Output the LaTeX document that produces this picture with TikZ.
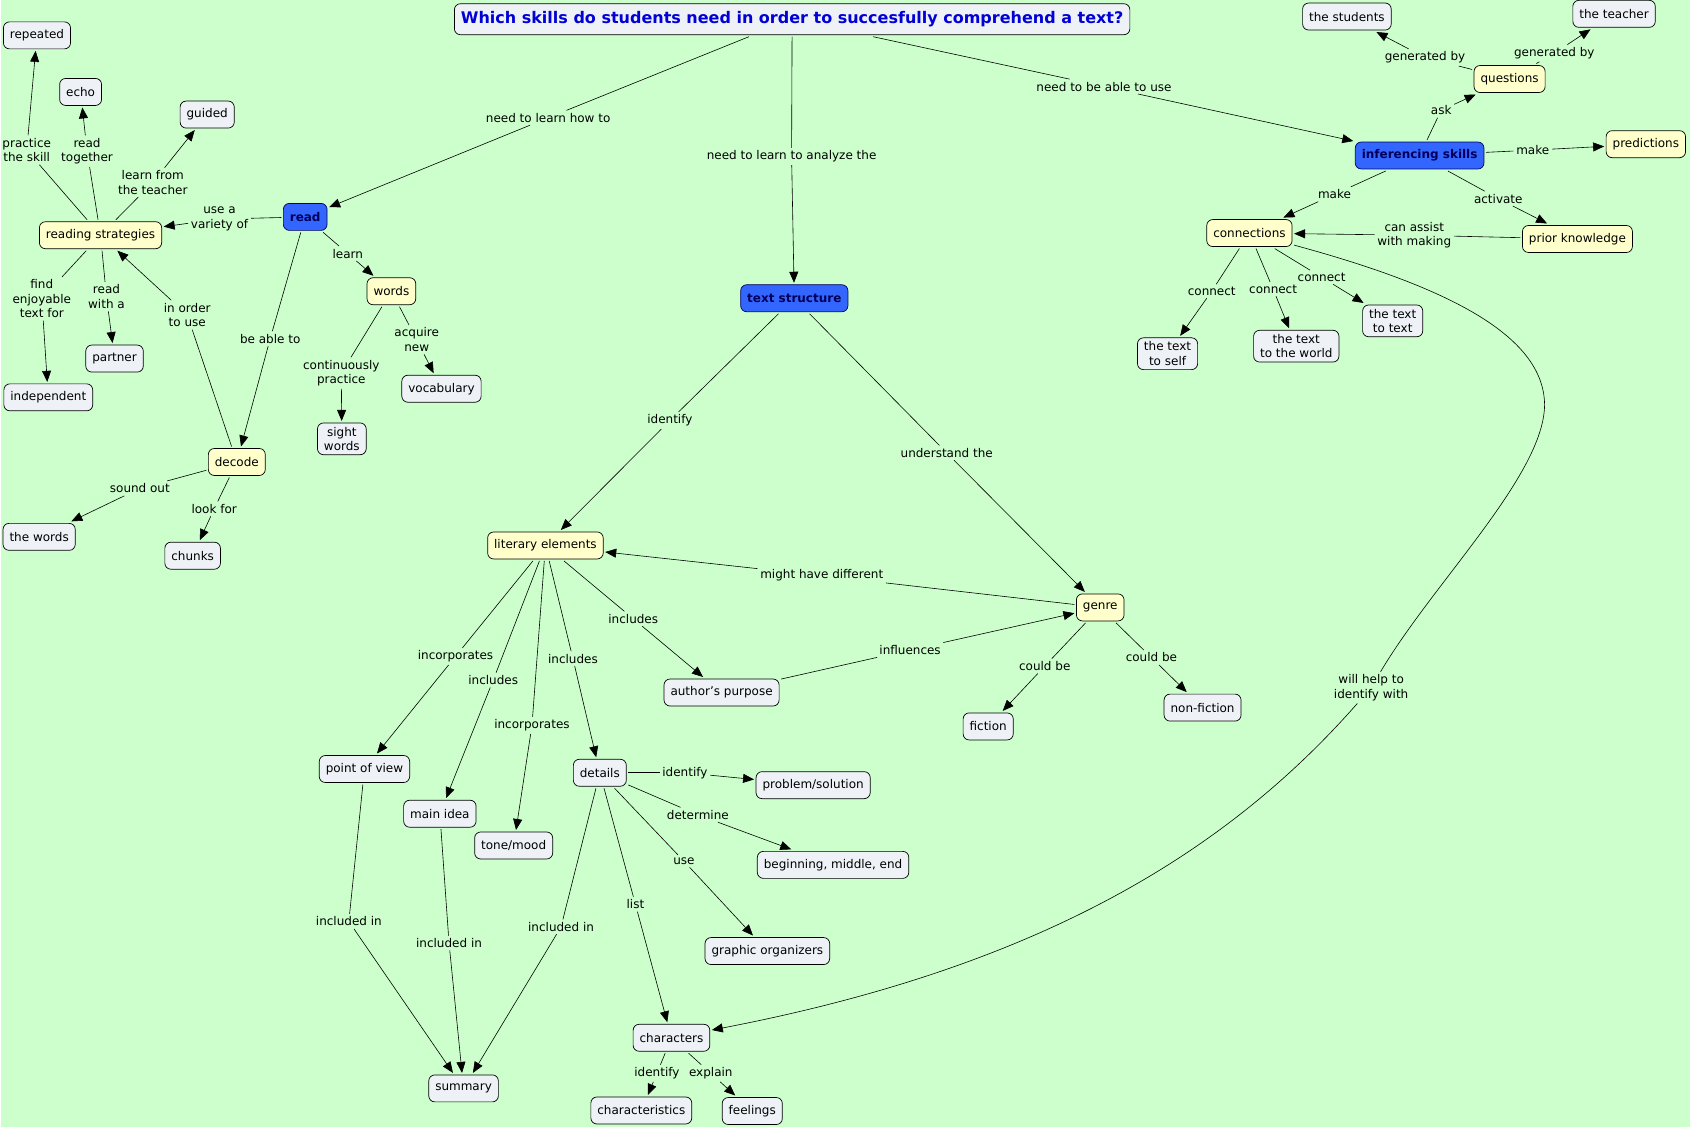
\documentclass[tikz,border=0pt]{standalone}
\usepackage{fontspec}
\setmainfont{DejaVu Sans}
\usetikzlibrary{arrows.meta}
\definecolor{cmapbg}{RGB}{204,255,204}
\definecolor{paleblue}{RGB}{238,242,247}
\definecolor{paleyellow}{RGB}{255,255,204}
\definecolor{hubblue}{RGB}{51,102,255}
\definecolor{hubtext}{RGB}{0,0,90}
\definecolor{titleblue}{RGB}{0,0,215}

\begin{document}
\begin{tikzpicture}[x=1.0778pt,y=-1.0778pt,
    every node/.style={font=\fontsize{12}{14.5}\selectfont},
    concept/.style={draw,line width=0.7pt,rounded corners=6pt,fill=paleblue,align=center,
      minimum height=27pt,inner xsep=6.5pt,inner ysep=4pt,outer sep=2pt},
    idea/.style={concept,fill=paleyellow},
    hub/.style={concept,fill=hubblue,draw=hubtext,text=hubtext,font=\fontsize{12}{14.5}\selectfont\bfseries},
    link/.style={align=center,inner sep=2.5pt},
    arr/.style={-{Triangle[length=11pt,width=9pt]}},
    every path/.style={line width=0.6pt}]
  \fill[cmapbg] (0,0) rectangle (1568,1046);

  % concepts
  \node[concept,text=titleblue,minimum width=673pt,minimum height=31pt,
    font=\fontsize{16}{18}\selectfont\bfseries] (q) at (734.5,17.5)
    {Which skills do students need in order to succesfully comprehend a text?};
  \node[hub] (read) at (282.5,201) {read};
  \node[hub] (struct) at (736.5,276.5) {text structure};
  \node[hub] (infer) at (1317,144) {inferencing skills};

  \node[concept] (stud) at (1249.5,15) {the students};
  \node[concept] (teach) at (1497.5,12.5) {the teacher};
  \node[idea] (quest) at (1400.5,73) {questions};
  \node[idea] (pred) at (1527,133.5) {predictions};
  \node[idea] (con) at (1159,216) {connections};
  \node[idea] (prior) at (1463.5,221.5) {prior knowledge};
  \node[concept] (self) at (1083,328) {the text\\ to self};
  \node[concept] (world) at (1202.5,321) {the text\\ to the world};
  \node[concept] (ttext) at (1292,297.5) {the text\\ to text};

  \node[concept] (rep) at (33.5,32.5) {repeated};
  \node[concept] (echo) at (74,85) {echo};
  \node[concept] (guid) at (191.5,106) {guided};
  \node[idea] (strat) at (92.5,218) {reading strategies};
  \node[idea] (words) at (362.5,270) {words};
  \node[concept] (part) at (105.5,332.5) {partner};
  \node[concept] (indep) at (44,368.5) {independent};
  \node[concept] (vocab) at (409,360.5) {vocabulary};
  \node[concept] (sight) at (316.5,407) {sight\\ words};
  \node[idea] (dec) at (219,428.5) {decode};
  \node[concept] (thew) at (35.5,498) {the words};
  \node[concept] (chunk) at (178,515.5) {chunks};

  \node[idea] (lit) at (505.5,506) {literary elements};
  \node[idea] (genre) at (1020.5,563.5) {genre};
  \node[concept] (auth) at (669,642.5) {author's purpose};
  \node[concept] (fict) at (916.5,674) {fiction};
  \node[concept] (nonf) at (1115.5,656.5) {non-fiction};
  \node[concept] (pov) at (337.5,713.5) {point of view};
  \node[concept] (main) at (407.5,755) {main idea};
  \node[concept] (tone) at (476,784.5) {tone/mood};
  \node[concept] (det) at (556,717) {details};
  \node[concept] (prob) at (754,728.5) {problem/solution};
  \node[concept] (bme) at (772.5,802.5) {beginning, middle, end};
  \node[concept] (graph) at (711.5,882.5) {graphic organizers};
  \node[concept] (chars) at (622.5,963) {characters};
  \node[concept] (charac) at (594.5,1030.5) {characteristics};
  \node[concept] (feel) at (697.5,1031) {feelings};
  \node[concept] (summ) at (429.5,1010) {summary};

  % linking phrases
  \node[link] (lhow) at (508,109) {need to learn how to};
  \node[link] (lanal) at (734,145) {need to learn to analyze the};
  \node[link] (lable) at (1024,80) {need to be able to use};
  \node[link] (lgen1) at (1322,53) {generated by};
  \node[link] (lgen2) at (1442,49) {generated by};
  \node[link] (lask) at (1337,102) {ask};
  \node[link] (lmake1) at (1422,139) {make};
  \node[link] (lmake2) at (1238,180) {make};
  \node[link] (lact) at (1390,184) {activate};
  \node[link] (lassist) at (1312,218) {can assist\\ with making};
  \node[link] (lcon1) at (1124,270) {connect};
  \node[link] (lcon2) at (1181,268) {connect};
  \node[link] (lcon3) at (1226,257) {connect};
  \node[link] (lhelp) at (1272,638) {will help to\\ identify with};

  \node[link] (lvar) at (203,203) {use a\\ variety of};
  \node[link] (llearn) at (322,235) {learn};
  \node[link] (lprac) at (24,139) {practice\\ the skill};
  \node[link] (ltog) at (80,140) {read\\ together};
  \node[link] (lfrom) at (141,169) {learn from\\ the teacher};
  \node[link] (lfind) at (38,277) {find\\ enjoyable\\ text for};
  \node[link] (lwith) at (98,275) {read\\ with a};
  \node[link] (lorder) at (173,292) {in order\\ to use};
  \node[link] (lbe) at (250,314) {be able to};
  \node[link] (lcont) at (316,346) {continuously\\ practice};
  \node[link] (lacq) at (386,315) {acquire\\ new};
  \node[link] (lsound) at (129,453) {sound out};
  \node[link] (llook) at (198,472) {look for};

  \node[link] (lident) at (621,390) {identify};
  \node[link] (lund) at (878,420) {understand the};
  \node[link] (ldiff) at (762,534) {might have different};
  \node[link] (linc1) at (587,574) {includes};
  \node[link] (linfl) at (844,603) {influences};
  \node[link] (lcould1) at (969,618) {could be};
  \node[link] (lcould2) at (1068,610) {could be};
  \node[link] (linco1) at (422,609) {incorporates};
  \node[link] (linc2) at (457,631) {includes};
  \node[link] (linco2) at (493,673) {incorporates};
  \node[link] (linc3) at (531,611) {includes};
  \node[link] (lid2) at (635,717) {identify};
  \node[link] (ldet) at (647,756) {determine};
  \node[link] (luse) at (634,799) {use};
  \node[link] (llist) at (589,839) {list};
  \node[link] (lin1) at (323,855) {included in};
  \node[link] (lin2) at (416,875) {included in};
  \node[link] (lin3) at (520,860) {included in};
  \node[link] (lid3) at (609,996) {identify};
  \node[link] (lexp) at (659,996) {explain};

  % connections
  \draw (q) -- (lhow) edge[arr] (read);
  \draw (q) -- (lanal) edge[arr] (struct);
  \draw (q) -- (lable) edge[arr] (infer);
  \draw (infer) -- (lask) edge[arr] (quest);
  \draw (quest) -- (lgen1) edge[arr] (stud);
  \draw (quest) -- (lgen2) edge[arr] (teach);
  \draw (infer) -- (lmake1) edge[arr] (pred);
  \draw (infer) -- (lmake2) edge[arr] (con);
  \draw (infer) -- (lact) edge[arr] (prior);
  \draw (prior) -- (lassist) edge[arr] (con);
  \draw (con) -- (lcon1) edge[arr] (self);
  \draw (con) -- (lcon2) edge[arr] (world);
  \draw (con) -- (lcon3) edge[arr] (ttext);
  \draw (con) .. controls (1340,265) and (1432,310) .. (1433,375)
    .. controls (1433,440) and (1330,540) .. (lhelp);
  \draw[arr] (lhelp) .. controls (1130,800) and (950,900) .. (chars);

  \draw (read) -- (lvar) edge[arr] (strat);
  \draw (read) -- (llearn) edge[arr] (words);
  \draw (read) -- (lbe) edge[arr] (dec);
  \draw (strat) -- (lprac) edge[arr] (rep);
  \draw (strat) -- (ltog) edge[arr] (echo);
  \draw (strat) -- (lfrom) edge[arr] (guid);
  \draw (strat) -- (lfind) edge[arr] (indep);
  \draw (strat) -- (lwith) edge[arr] (part);
  \draw (dec) -- (lorder) edge[arr] (strat);
  \draw (words) -- (lcont) edge[arr] (sight);
  \draw (words) -- (lacq) edge[arr] (vocab);
  \draw (dec) -- (lsound) edge[arr] (thew);
  \draw (dec) -- (llook) edge[arr] (chunk);

  \draw (struct) -- (lident) edge[arr] (lit);
  \draw (struct) -- (lund) edge[arr] (genre);
  \draw (genre) -- (ldiff) edge[arr] (lit);
  \draw (lit) -- (linc1) edge[arr] (auth);
  \draw (auth) -- (linfl) edge[arr] (genre);
  \draw (genre) -- (lcould1) edge[arr] (fict);
  \draw (genre) -- (lcould2) edge[arr] (nonf);
  \draw (lit) -- (linco1) edge[arr] (pov);
  \draw (lit) -- (linc2) edge[arr] (main);
  \draw (lit) -- (linco2) edge[arr] (tone);
  \draw (lit) -- (linc3) edge[arr] (det);
  \draw (det) -- (lid2) edge[arr] (prob);
  \draw (det) -- (ldet) edge[arr] (bme);
  \draw (det) -- (luse) edge[arr] (graph);
  \draw (det) -- (llist) edge[arr] (chars);
  \draw (pov) -- (lin1) edge[arr] (summ);
  \draw (main) -- (lin2) edge[arr] (summ);
  \draw (det) -- (lin3) edge[arr] (summ);
  \draw (chars) -- (lid3) edge[arr] (charac);
  \draw (chars) -- (lexp) edge[arr] (feel);
\end{tikzpicture}
\end{document}
